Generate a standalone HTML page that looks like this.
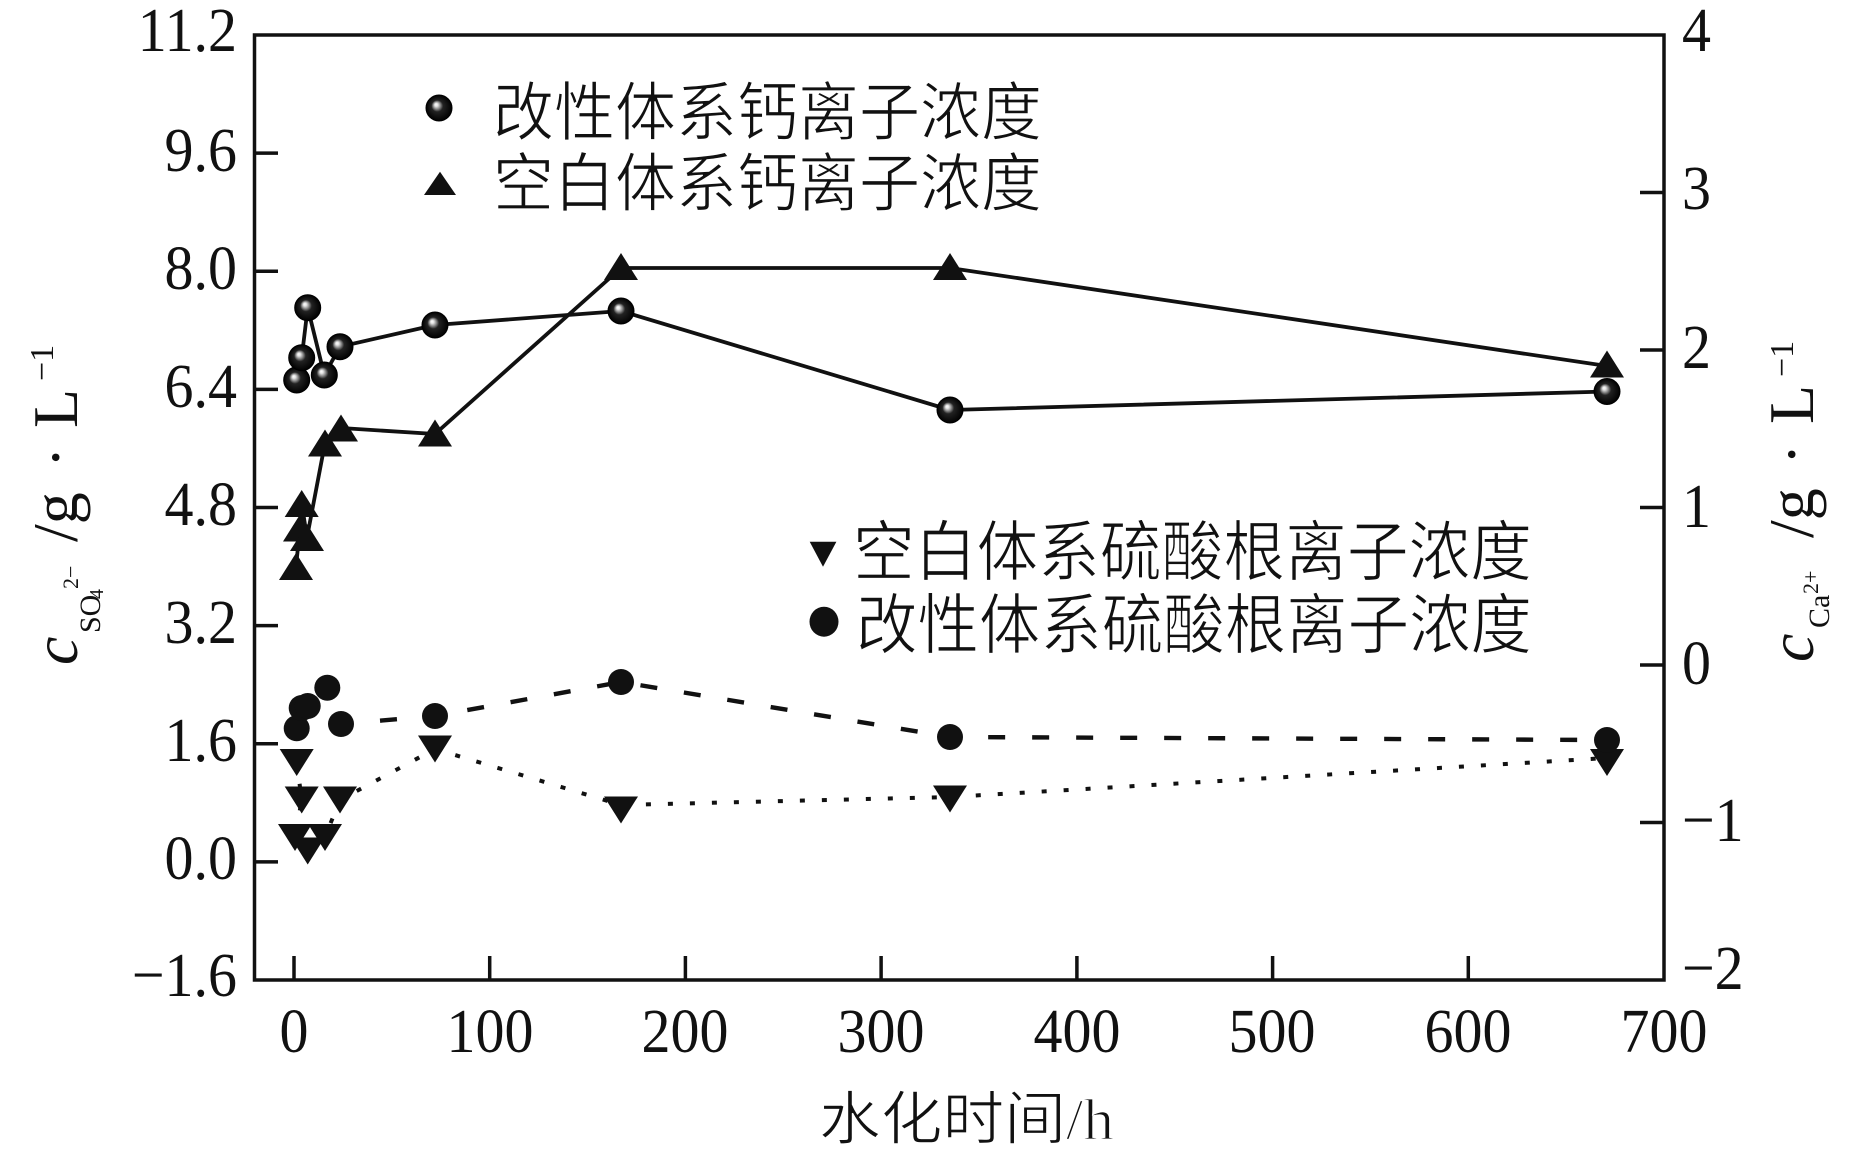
<!DOCTYPE html>
<html><head><meta charset="utf-8"><style>
html,body{margin:0;padding:0;background:#fff;}
svg{display:block;}
text{fill:#111;}
.n{font-family:"Liberation Serif",serif;font-size:63px;}
.cj{font-family:"Liberation Serif","Noto Sans CJK SC",sans-serif;stroke:#fff;stroke-width:1.2px;}
.t{font-family:"Liberation Serif",serif;}
</style></head><body>
<svg width="1856" height="1154" viewBox="0 0 1856 1154" xmlns="http://www.w3.org/2000/svg">
<defs>
<radialGradient id="sph" cx="0.5" cy="0.5" r="0.5" fx="0.38" fy="0.36">
<stop offset="0" stop-color="#fff"/>
<stop offset="0.12" stop-color="#e6e6e6"/>
<stop offset="0.28" stop-color="#8a8a8a"/>
<stop offset="0.45" stop-color="#222"/>
<stop offset="1" stop-color="#000"/>
</radialGradient>
</defs>
<rect width="1856" height="1154" fill="#fff"/>

<!-- frame -->
<rect x="254.5" y="35" width="1409.5" height="945" fill="none" stroke="#111" stroke-width="3.5"/>
<g stroke="#111" stroke-width="3.5">
<line x1="254.5" y1="153.1" x2="278" y2="153.1"/>
<line x1="254.5" y1="271.25" x2="278" y2="271.25"/>
<line x1="254.5" y1="389.4" x2="278" y2="389.4"/>
<line x1="254.5" y1="507.5" x2="278" y2="507.5"/>
<line x1="254.5" y1="625.6" x2="278" y2="625.6"/>
<line x1="254.5" y1="743.75" x2="278" y2="743.75"/>
<line x1="254.5" y1="861.9" x2="278" y2="861.9"/>
<line x1="1640" y1="192.5" x2="1664" y2="192.5"/>
<line x1="1640" y1="350" x2="1664" y2="350"/>
<line x1="1640" y1="507.5" x2="1664" y2="507.5"/>
<line x1="1640" y1="665" x2="1664" y2="665"/>
<line x1="1640" y1="822.5" x2="1664" y2="822.5"/>
<line x1="294" y1="956" x2="294" y2="980"/>
<line x1="489.7" y1="956" x2="489.7" y2="980"/>
<line x1="685.4" y1="956" x2="685.4" y2="980"/>
<line x1="881.1" y1="956" x2="881.1" y2="980"/>
<line x1="1076.9" y1="956" x2="1076.9" y2="980"/>
<line x1="1272.6" y1="956" x2="1272.6" y2="980"/>
<line x1="1468.3" y1="956" x2="1468.3" y2="980"/>
</g>

<!-- left tick labels -->
<g class="n" text-anchor="end">
<text transform="translate(237,51) scale(0.92,1)">11.2</text>
<text transform="translate(237,171) scale(0.92,1)">9.6</text>
<text transform="translate(237,289) scale(0.92,1)">8.0</text>
<text transform="translate(237,407) scale(0.92,1)">6.4</text>
<text transform="translate(237,525) scale(0.92,1)">4.8</text>
<text transform="translate(237,643) scale(0.92,1)">3.2</text>
<text transform="translate(237,761) scale(0.92,1)">1.6</text>
<text transform="translate(237,879) scale(0.92,1)">0.0</text>
<text transform="translate(237,996) scale(0.92,1)">−1.6</text>
</g>
<!-- right tick labels -->
<g class="n" text-anchor="start">
<text transform="translate(1682,51) scale(0.92,1)">4</text>
<text transform="translate(1682,209) scale(0.92,1)">3</text>
<text transform="translate(1682,368) scale(0.92,1)">2</text>
<text transform="translate(1682,527) scale(0.92,1)">1</text>
<text transform="translate(1682,684) scale(0.92,1)">0</text>
<text transform="translate(1682,841) scale(0.92,1)">−1</text>
<text transform="translate(1682,989) scale(0.92,1)">−2</text>
</g>
<!-- bottom tick labels -->
<g class="n" text-anchor="middle">
<text transform="translate(294,1052) scale(0.92,1)">0</text>
<text transform="translate(490,1052) scale(0.92,1)">100</text>
<text transform="translate(685,1052) scale(0.92,1)">200</text>
<text transform="translate(881,1052) scale(0.92,1)">300</text>
<text transform="translate(1077,1052) scale(0.92,1)">400</text>
<text transform="translate(1272,1052) scale(0.92,1)">500</text>
<text transform="translate(1468,1052) scale(0.92,1)">600</text>
<text transform="translate(1664,1052) scale(0.92,1)">700</text>
</g>

<!-- x title -->
<text class="cj" x="819" y="1139" font-size="58" textLength="295" lengthAdjust="spacingAndGlyphs">水化时间/h</text>

<!-- left y title -->
<g transform="translate(77,0) rotate(-90)" class="t">
<text x="-665" y="0" font-size="64" font-style="italic">c</text>
<text x="-633" y="23" font-size="30">SO</text>
<text x="-599" y="26" font-size="20">4</text>
<text x="-589" y="1" font-size="22">2−</text>
<text x="-542" y="0" font-size="64">/g</text>
<text x="-468" y="0" font-size="64">·</text>
<text x="-428" y="0" font-size="64">L</text>
<text x="-381" y="-24" font-size="34">−1</text>
</g>
<!-- right y title -->
<g transform="translate(1813,0) rotate(-90)" class="t">
<text x="-662" y="0" font-size="64" font-style="italic">c</text>
<text x="-628" y="16" font-size="30">Ca</text>
<text x="-594" y="5" font-size="22">2+</text>
<text x="-538" y="0" font-size="64">/g</text>
<text x="-465" y="0" font-size="64">·</text>
<text x="-424" y="0" font-size="64">L</text>
<text x="-377" y="-20" font-size="34">−1</text>
</g>

<!-- series lines -->
<g fill="none" stroke="#111" stroke-linejoin="round">
<polyline stroke-width="3.8" points="296.7,380 301.7,357.7 307.7,307.7 324.3,375 340,346.7 435,325 621,311 950,410 1607,391.5"/>
<polyline stroke-width="3.8" points="296,566.5 300,528 301.7,503.5 307,537.5 325,443 341,428 435,434 621,268 950,268 1607,366"/>
<polyline stroke-width="4.4" stroke-dasharray="17 27" points="296.7,728.3 301.7,708 307.7,706 327.3,687.7 341,724 435,716 621,682 950,737 1607,740"/>
<polyline stroke-width="4" stroke-dasharray="5 17" points="296.7,762 301.7,800 295,837 307.7,851 325,837 340,800 435,749 621,805 950,797 1607,758"/>
</g>

<!-- up triangles -->
<g fill="#111">
<polygon points="296,553 279,580 313,580"/>
<polygon points="300,514.5 283,541.5 317,541.5"/>
<polygon points="301.7,490 284.7,517 318.7,517"/>
<polygon points="307,524 290,551 324,551"/>
<polygon points="325,429.5 308,456.5 342,456.5"/>
<polygon points="341,414.5 324,441.5 358,441.5"/>
<polygon points="435,419.5 418,446.5 452,446.5"/>
<polygon points="621,253 604,280 638,280"/>
<polygon points="950,253 933,280 967,280"/>
<polygon points="1607,350.5 1590,377.5 1624,377.5"/>
</g>
<!-- down triangles -->
<g fill="#111">
<polygon points="279.7,749 313.7,749 296.7,776"/>
<polygon points="284.7,786.5 318.7,786.5 301.7,813.5"/>
<polygon points="323,786.5 357,786.5 340,813.5"/>
<polygon points="278,824 312,824 295,851"/>
<polygon points="308,824 342,824 325,851"/>
<polygon points="290.7,837.5 324.7,837.5 307.7,864.5"/>
<polygon points="418,735.5 452,735.5 435,762.5"/>
<polygon points="604,796.5 638,796.5 621,823.5"/>
<polygon points="933,785.5 967,785.5 950,812.5"/>
<polygon points="1590,749 1624,749 1607,776"/>
</g>
<!-- circles -->
<g fill="#111">
<circle cx="296.7" cy="728.3" r="13"/>
<circle cx="301.7" cy="708" r="13"/>
<circle cx="307.7" cy="706" r="13"/>
<circle cx="327.3" cy="687.7" r="13"/>
<circle cx="341" cy="724" r="13"/>
<circle cx="435" cy="716" r="13"/>
<circle cx="621" cy="682" r="13"/>
<circle cx="950" cy="737" r="13"/>
<circle cx="1607" cy="740" r="13"/>
</g>
<!-- spheres -->
<g fill="url(#sph)" stroke="#000" stroke-width="1">
<circle cx="296.7" cy="380" r="13"/>
<circle cx="301.7" cy="357.7" r="13"/>
<circle cx="307.7" cy="307.7" r="13"/>
<circle cx="324.3" cy="375" r="13"/>
<circle cx="340" cy="346.7" r="13"/>
<circle cx="435" cy="325" r="13"/>
<circle cx="621" cy="311" r="13"/>
<circle cx="950" cy="410" r="13"/>
<circle cx="1607" cy="391.5" r="13"/>
</g>

<!-- legend 1 -->
<circle cx="439" cy="108" r="13" fill="url(#sph)" stroke="#000" stroke-width="1"/>
<polygon points="440,171.7 424,195 456,195" fill="#111"/>
<text class="cj" x="493" y="135" font-size="64" textLength="549" lengthAdjust="spacingAndGlyphs">改性体系钙离子浓度</text>
<text class="cj" x="493" y="206" font-size="64" textLength="549" lengthAdjust="spacingAndGlyphs">空白体系钙离子浓度</text>

<!-- legend 2 -->
<polygon points="809.7,541.7 836.4,541.7 823,566.7" fill="#111"/>
<ellipse cx="824" cy="621.7" rx="14.5" ry="15" fill="#111"/>
<text class="cj" x="853" y="575" font-size="66" textLength="679" lengthAdjust="spacingAndGlyphs">空白体系硫酸根离子浓度</text>
<text class="cj" x="856" y="648" font-size="66" textLength="676" lengthAdjust="spacingAndGlyphs">改性体系硫酸根离子浓度</text>
</svg>
</body></html>
